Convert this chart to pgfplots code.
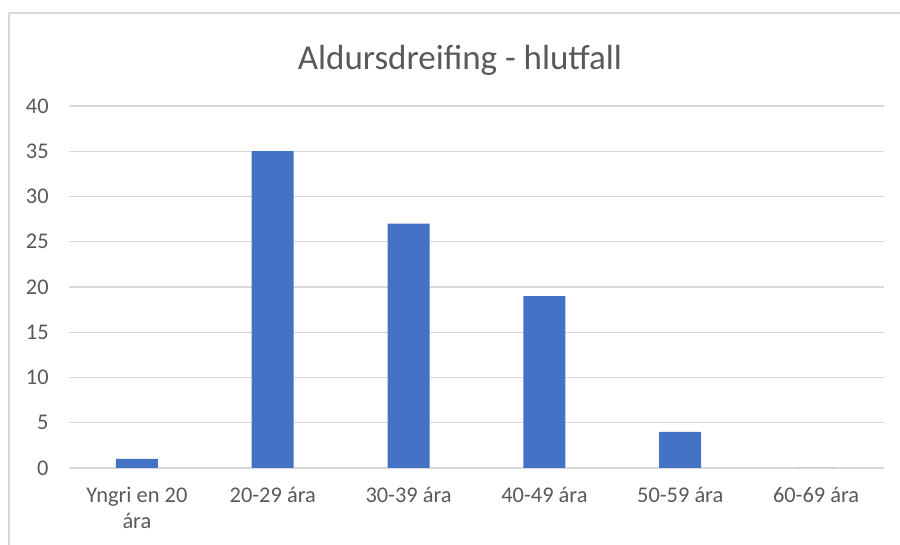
\documentclass[border=0pt]{standalone}
\usepackage{pgfplots}
\pgfplotsset{compat=1.18}
\usepackage{fontspec}
\setmainfont{Carlito}
\definecolor{barblue}{HTML}{4472C4}
\definecolor{gridgray}{HTML}{D9D9D9}
\definecolor{txtgray}{HTML}{595959}
\begin{document}
\begin{tikzpicture}
\path[use as bounding box] (0,0) rectangle (450pt,272.5pt);
\draw[gridgray, line width=0.6pt] (4.5pt,-20pt) rectangle (470pt,266pt);
\node[anchor=base, text=txtgray, font=\fontsize{17.5}{21}\selectfont, inner sep=0pt] at (230pt,237.5pt) {Aldursdreifing - hlutfall};
\begin{axis}[
  at={(34.5pt,38.5pt)}, anchor=south west,
  scale only axis, width=407.5pt, height=181pt,
  xmin=-0.5, xmax=5.5, ymin=0, ymax=40,
  ytick={0,5,...,40},
  xtick={0,1,2,3,4,5},
  xticklabels={{Yngri en 20\\ára},{20-29 ára},{30-39 ára},{40-49 ára},{50-59 ára},{60-69 ára}},
  axis line style={draw=none},
  major tick length=0pt,
  ymajorgrids, grid style={gridgray, line width=0.6pt},
  /pgf/number format/assume math mode=true,
  tick label style={text=txtgray, font=\fontsize{11.2}{13}\selectfont},
  yticklabel style={inner sep=0pt, xshift=-10pt},
  xticklabel style={align=center, inner sep=0pt, yshift=-9.5pt},
  ybar, bar width=21pt,
]
\addplot[fill=barblue, draw=none] coordinates {(0,1) (1,35) (2,27) (3,19) (4,4) (5,0)};
\end{axis}
\end{tikzpicture}
\end{document}
